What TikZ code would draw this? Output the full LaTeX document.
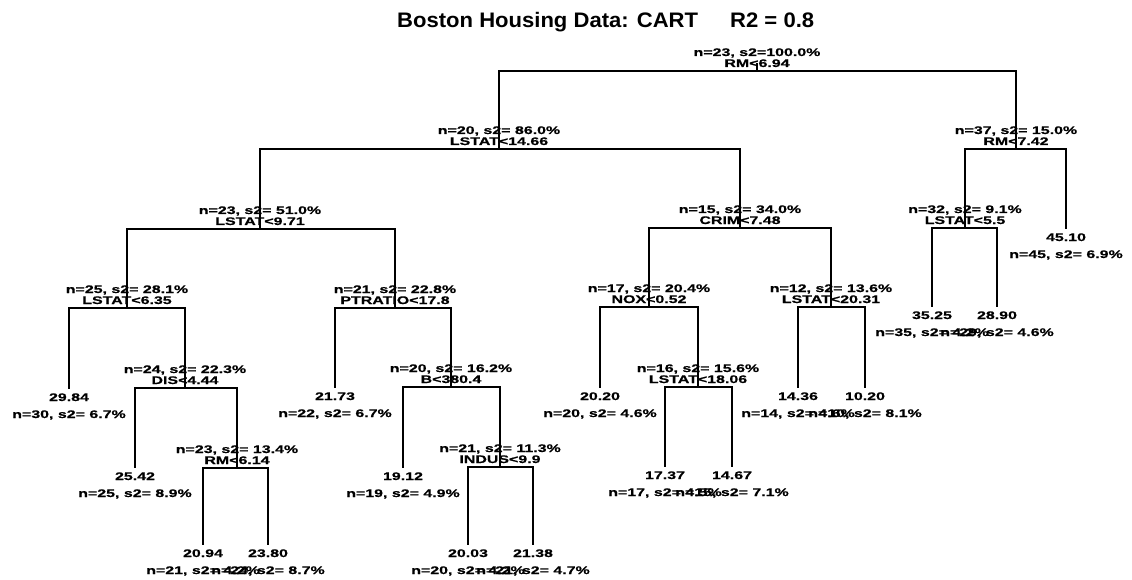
\documentclass[tikz,border=0pt]{standalone}
\usepackage{fontspec}
\setmainfont{Liberation Sans}
\newfontfamily\treefont[FakeStretch=1.45,FakeBold=0.6]{Liberation Sans Bold}
\newfontfamily\titlefont[FakeStretch=1.05]{Liberation Sans Bold}
\begin{document}
\begin{tikzpicture}[x=1pt,y=-1pt,
  edge/.style={line width=1.9pt},
  tl/.style={font=\treefont\fontsize{11}{11}\selectfont, inner sep=0pt, anchor=base},
  ttl/.style={font=\titlefont\fontsize{21}{21}\selectfont, inner sep=0pt, anchor=base west}]
\useasboundingbox (0,0) rectangle (1132,580);
\node[ttl] (t1) at (397,28) {Boston Housing Data: CART};
\node[ttl] (t2) at (730,28) {R2 = 0.8};
% split nodes: name/x/bar/line1/line2
\foreach \n/\x/\y/\a/\b in {
 n1/757/71/{n=23, s2=100.0\%}/{RM<6.94},
 n2/499/149/{n=20, s2= 86.0\%}/{LSTAT<14.66},
 n3/1016/149/{n=37, s2= 15.0\%}/{RM<7.42},
 n4/260/229/{n=23, s2= 51.0\%}/{LSTAT<9.71},
 n5/740/228/{n=15, s2= 34.0\%}/{CRIM<7.48},
 n6/965/228/{n=32, s2= 9.1\%}/{LSTAT<5.5},
 n8/127/308/{n=25, s2= 28.1\%}/{LSTAT<6.35},
 n9/395/308/{n=21, s2= 22.8\%}/{PTRATIO<17.8},
 n10/649/307/{n=17, s2= 20.4\%}/{NOX<0.52},
 n11/831/307/{n=12, s2= 13.6\%}/{LSTAT<20.31},
 n15/185/388/{n=24, s2= 22.3\%}/{DIS<4.44},
 n17/451/387/{n=20, s2= 16.2\%}/{B<380.4},
 n19/698/387/{n=16, s2= 15.6\%}/{LSTAT<18.06},
 n23/237/468/{n=23, s2= 13.4\%}/{RM<6.14},
 n25/500/467/{n=21, s2= 11.3\%}/{INDUS<9.9}}{
  \coordinate (\n) at (\x,\y);
  \node[tl] (\n a) at (\x,\y-15) {\a};
  \node[tl] (\n b) at (\x,\y-4) {\b};
}
% leaves: name/x/lineend/value/label
\foreach \n/\x/\y/\v/\l in {
 l7/1066/229/45.10/{n=45, s2= 6.9\%},
 l12/932/307/35.25/{n=35, s2= 4.2\%},
 l13/997/307/28.90/{n=29, s2= 4.6\%},
 l14/69/389/29.84/{n=30, s2= 6.7\%},
 l16/335/388/21.73/{n=22, s2= 6.7\%},
 l18/600/388/20.20/{n=20, s2= 4.6\%},
 l20/798/388/14.36/{n=14, s2= 4.6\%},
 l21/865/388/10.20/{n=10, s2= 8.1\%},
 l22/135/468/25.42/{n=25, s2= 8.9\%},
 l24/403/468/19.12/{n=19, s2= 4.9\%},
 l26/665/467/17.37/{n=17, s2= 4.5\%},
 l27/732/467/14.67/{n=15, s2= 7.1\%},
 l28/203/545/20.94/{n=21, s2= 4.2\%},
 l29/268/545/23.80/{n=24, s2= 8.7\%},
 l30/468/545/20.03/{n=20, s2= 4.2\%},
 l31/533/545/21.38/{n=21, s2= 4.7\%}}{
  \coordinate (\n) at (\x,\y);
  \node[tl] (\n v) at (\x,\y+12) {\v};
  \node[tl] (\n l) at (\x,\y+29) {\l};
}
\coordinate (n1top) at (757,63);
\draw[edge] (n1top) -- (n1);
\foreach \p/\c in {n1/n2,n1/n3,n2/n4,n2/n5,n3/n6,n3/l7,n4/n8,n4/n9,n5/n10,n5/n11,
  n6/l12,n6/l13,n8/l14,n8/n15,n9/l16,n9/n17,n10/l18,n10/n19,n11/l20,n11/l21,
  n15/l22,n15/n23,n17/l24,n17/n25,n19/l26,n19/l27,n23/l28,n23/l29,n25/l30,n25/l31}{
  \draw[edge] (\p) -| (\c);
}
\end{tikzpicture}
\end{document}
